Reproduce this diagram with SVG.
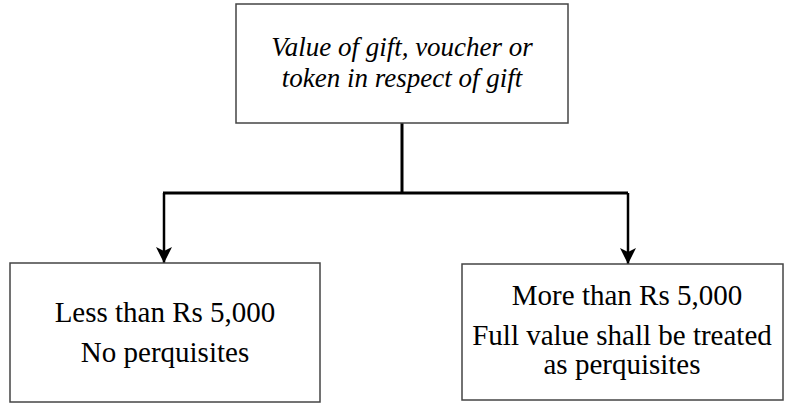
<svg xmlns="http://www.w3.org/2000/svg" width="785" height="403" viewBox="0 0 785 403">
<style>
.box{fill:#fff;stroke:#444;stroke-width:1.5}
text{font-family:'Liberation Serif','DejaVu Serif',serif;font-size:29px;fill:#000;text-anchor:middle}
.i{font-style:italic;font-size:27px}
.c{fill:none;stroke:#000;stroke-width:3}
</style>
<defs>
<marker id="ah" markerUnits="userSpaceOnUse" markerWidth="16" markerHeight="16" viewBox="0 0 16 16" refX="16" refY="8" orient="auto">
<path d="M0,0 L4,8 L0,16 L16,8 Z" fill="#000"/>
</marker>
</defs>
<rect width="785" height="403" fill="#fff"/>
<g id="connectors">
<path class="c" d="M402,123 V193"/>
<path class="c" d="M163,193 H628"/>
<path class="c" d="M164,193 V263" marker-end="url(#ah)" style="stroke-width:2.5"/>
<path class="c" d="M628,193 V264" marker-end="url(#ah)" style="stroke-width:2.5"/>
</g>
<g id="node-top">
<rect class="box" x="236" y="4" width="332" height="119"/>
<text class="i" x="402" y="56" font-family="Liberation Serif">Value of gift, voucher or</text>
<text class="i" x="402" y="87" font-family="Liberation Serif">token in respect of gift</text>
</g>
<g id="node-left">
<rect class="box" x="10" y="263" width="310" height="139"/>
<text x="165" y="322" font-family="Liberation Serif">Less than Rs 5,000</text>
<text x="165" y="362" font-family="Liberation Serif">No perquisites</text>
</g>
<g id="node-right">
<rect class="box" x="462" y="264" width="321" height="136"/>
<text x="627" y="305" font-family="Liberation Serif">More than Rs 5,000</text>
<text x="622" y="345" font-family="Liberation Serif">Full value shall be treated</text>
<text x="622" y="374" font-family="Liberation Serif">as perquisites</text>
</g>
</svg>
